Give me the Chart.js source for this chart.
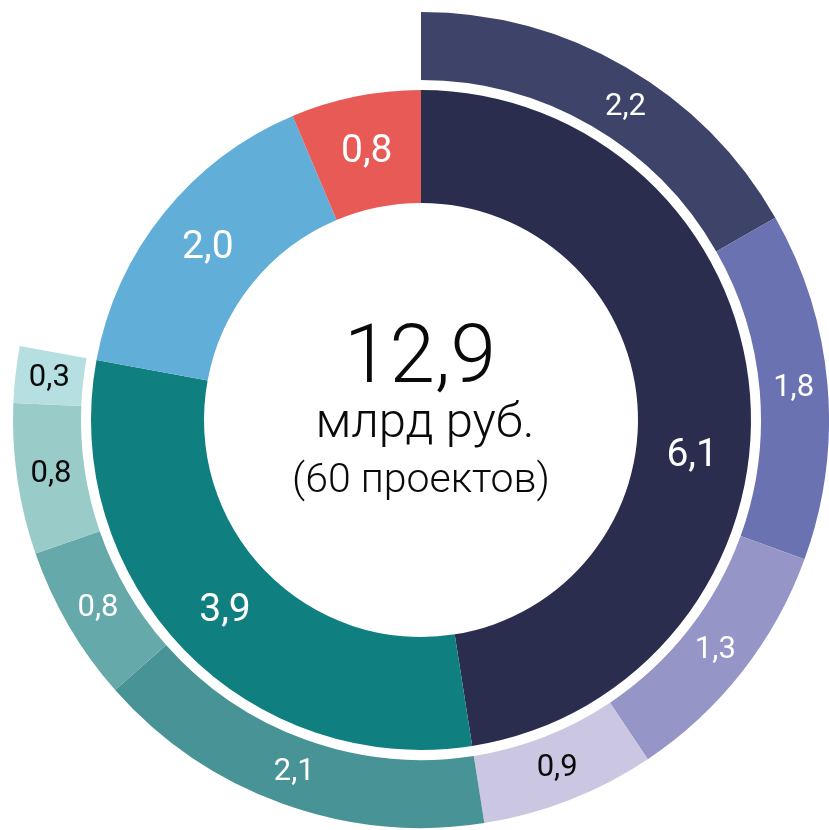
<!DOCTYPE html>
<html>
<head>
<meta charset="utf-8">
<script src="https://cdn.jsdelivr.net/npm/chart.js@4.4.1/dist/chart.umd.min.js"></script>
<style>
  html, body { margin: 0; padding: 0; background: #fff; }
  #wrap { width: 829px; height: 830px; position: relative; }
</style>
</head>
<body>
<div id="wrap"><canvas id="graph"></canvas></div>
<script>
// inner ring: main groups (bln rub)
const groupNames = ['Группа 1', 'Группа 2', 'Группа 3', 'Группа 4'];
const groupValues = [6.13, 3.92, 2.03, 0.82];
const groupColors = ['#2b2d4f', '#107f80', '#61aed8', '#e85a55'];

// outer ring: breakdown of the first two groups
const partNames = ['1-1', '1-2', '1-3', '1-4', '2-1', '2-2', '2-3', '2-4'];
const partValues = [2.16, 1.78, 1.30, 0.89, 2.06, 0.80, 0.77, 0.29];
const partColors = ['#3e4369', '#6b72b1', '#9596c7', '#cbc7e2', '#489395', '#65a9ab', '#99cbc9', '#b6dfe1'];
const partDark = [false, false, false, true, false, false, true, true];

const totalText = '12,9';
const unitText = 'млрд руб.';
const countText = '(60 проектов)';

const fmt = v => v.toFixed(1).replace('.', ',');

// outer ring leaves the last two groups empty
const outerData = partValues.concat(groupValues.slice(2));
const outerColors = partColors.concat(['rgba(0,0,0,0)', 'rgba(0,0,0,0)']);

const sliceLabels = {
  id: 'sliceLabels',
  afterDatasetsDraw(chart) {
    const ctx = chart.ctx;
    ctx.save();
    ctx.textAlign = 'center';
    ctx.textBaseline = 'middle';
    const draw = (dsIndex, texts, font, colors, shifts) => {
      chart.getDatasetMeta(dsIndex).data.forEach((arc, i) => {
        if (texts[i] == null) return;
        const p = arc.getProps(['x', 'y', 'startAngle', 'endAngle', 'innerRadius', 'outerRadius']);
        const a = (p.startAngle + p.endAngle) / 2 + (shifts[i] || 0) * Math.PI / 180;
        const r = (p.innerRadius + p.outerRadius) / 2;
        ctx.font = font;
        ctx.fillStyle = colors[i];
        ctx.fillText(texts[i], p.x + Math.cos(a) * r, p.y + Math.sin(a) * r);
      });
    };
    draw(2, groupValues.map(fmt), '400 39px Roboto', groupValues.map(() => '#fff'), [12, 0, 0, 0]);
    draw(0, partValues.map(fmt), '400 31px Roboto', partDark.map(d => d ? '#0a0a0a' : '#fff'), [3]);
    ctx.restore();
  }
};

const centerText = {
  id: 'centerText',
  afterDraw(chart) {
    const ctx = chart.ctx;
    const a = chart.chartArea;
    const cx = (a.left + a.right) / 2;
    const cy = (a.top + a.bottom) / 2;
    ctx.save();
    ctx.textAlign = 'center';
    ctx.textBaseline = 'alphabetic';
    ctx.fillStyle = '#0a0a0a';
    ctx.font = '300 82px Roboto';
    ctx.fillText(totalText, cx - 1, cy - 38);
    ctx.font = '300 49px Roboto';
    ctx.fillText(unitText, cx + 4, cy + 17);
    ctx.font = '300 41px Roboto';
    ctx.fillText(countText, cx, cy + 72);
    ctx.restore();
  }
};

const ctx = document.getElementById('graph').getContext('2d');
new Chart(ctx, {
  type: 'doughnut',
  data: {
    labels: partNames.concat(groupNames.slice(2)),
    datasets: [
      { data: outerData, backgroundColor: outerColors, borderWidth: 0, weight: 68 },
      { data: groupValues, backgroundColor: 'rgba(0,0,0,0)', borderWidth: 0, weight: 10 },
      { data: groupValues, backgroundColor: groupColors, borderWidth: 0, weight: 113 }
    ]
  },
  options: {
    responsive: true,
    maintainAspectRatio: false,
    animation: false,
    cutout: 217,
    layout: { padding: { left: 13, top: 10, right: 0, bottom: 0 } },
    plugins: { legend: { display: false }, tooltip: { enabled: false } },
    events: []
  },
  plugins: [sliceLabels, centerText]
});
</script>
</body>
</html>
